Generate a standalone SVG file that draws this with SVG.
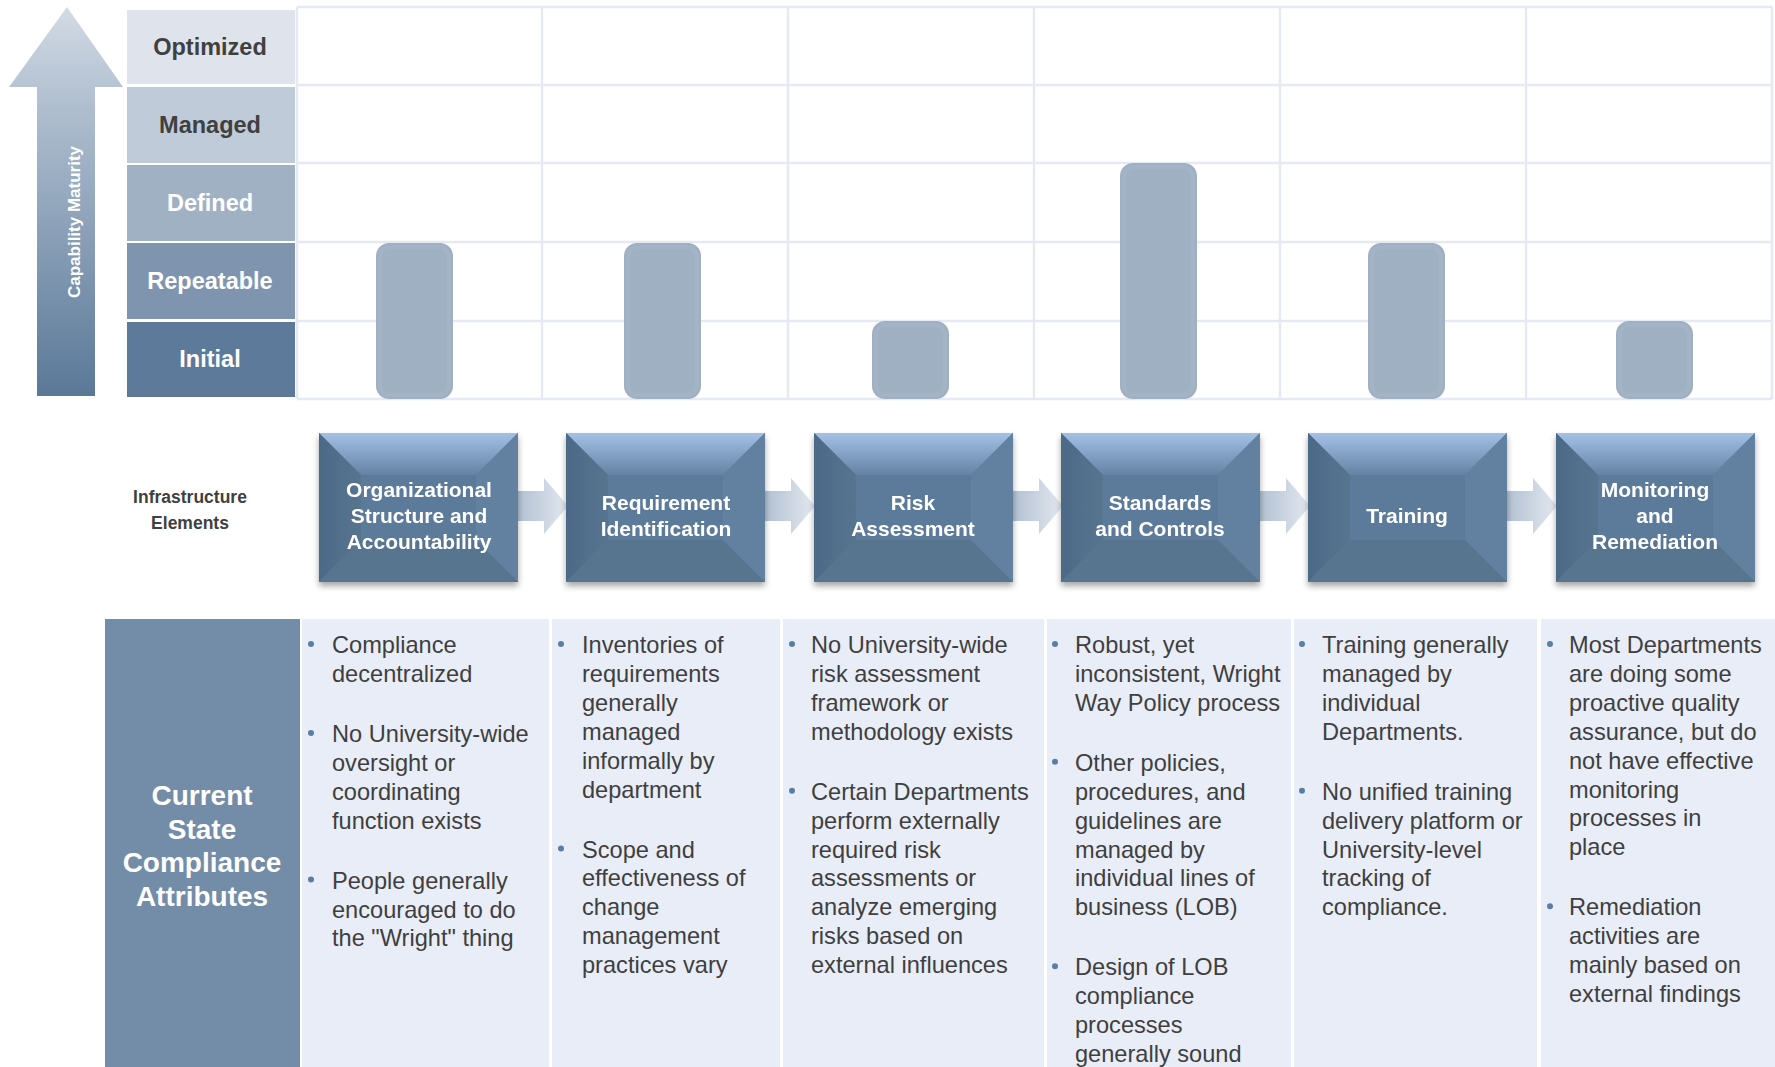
<svg xmlns="http://www.w3.org/2000/svg" xmlns:xlink="http://www.w3.org/1999/xlink" width="1775" height="1067" viewBox="0 0 1775 1067">
  <style>
    .lvl-dark { font-family: "Liberation Sans", Arial, sans-serif; font-weight: bold; font-size: 23.5px; fill: #404040; text-anchor: middle; }
    .lvl-light { font-family: "Liberation Sans", Arial, sans-serif; font-weight: bold; font-size: 23.5px; fill: #ffffff; text-anchor: middle; }
    .axis { font-family: "Liberation Sans", Arial, sans-serif; font-weight: bold; font-size: 17px; fill: #ffffff; text-anchor: middle; }
    .grid { stroke: #e5e9f4; stroke-width: 2.5; fill: none; }
    .bar { fill: #9fb0c3; }
    .bar-in { fill: none; stroke: #a4b4c6; stroke-width: 4; }
    .box-label { font-family: "Liberation Sans", Arial, sans-serif; font-weight: bold; font-size: 21px; fill: #ffffff; text-anchor: middle; }
    .side-label { font-family: "Liberation Sans", Arial, sans-serif; font-weight: bold; font-size: 17.5px; fill: #404040; text-anchor: middle; }
    .panel { fill: #738ca7; }
    .panel-label { font-family: "Liberation Sans", Arial, sans-serif; font-weight: bold; font-size: 28px; fill: #ffffff; text-anchor: middle; }
    .col { fill: #e9edf7; }
    .item { font-family: "Liberation Sans", Arial, sans-serif; font-size: 23.6px; fill: #3f3f3f; }
    .dot { fill: #5a7ea3; }
    .link { fill: url(#linkGrad); }
  </style>
  <defs>
    <linearGradient id="axisGrad" x1="0" y1="7" x2="0" y2="396" gradientUnits="userSpaceOnUse">
      <stop offset="0" stop-color="#d3dbe5"/>
      <stop offset="0.22" stop-color="#b4c2d2"/>
      <stop offset="1" stop-color="#5a7898"/>
    </linearGradient>
    <linearGradient id="topBevel" x1="0" y1="0" x2="0" y2="1">
      <stop offset="0" stop-color="#a3c1e6"/>
      <stop offset="1" stop-color="#6483a4"/>
    </linearGradient>
    <linearGradient id="leftBevel" x1="0" y1="0" x2="1" y2="0">
      <stop offset="0" stop-color="#4d6988"/>
      <stop offset="1" stop-color="#57748f"/>
    </linearGradient>
    <linearGradient id="linkGrad" x1="0" y1="0" x2="1" y2="0">
      <stop offset="0" stop-color="#b2c1d2"/>
      <stop offset="1" stop-color="#e3e8f0"/>
    </linearGradient>
    <filter id="shadow" x="-10%" y="-10%" width="120%" height="125%">
      <feDropShadow dx="0" dy="4" stdDeviation="3" flood-color="#000000" flood-opacity="0.35"/>
    </filter>
    <!-- bevelled process box, 199 x 149 -->
    <g id="bevelBox">
      <rect x="0" y="0" width="199" height="149" fill="#5d7b9b"/>
      <polygon points="0,0 199,0 157,42 42,42" fill="url(#topBevel)"/>
      <polygon points="0,0 42,42 42,107 0,149" fill="url(#leftBevel)"/>
      <polygon points="199,0 199,149 157,107 157,42" fill="#6280a0"/>
      <polygon points="0,149 42,107 157,107 199,149" fill="#58758f"/>
      <rect x="42" y="42" width="115" height="65" fill="#5c7a9a"/>
    </g>
    <path id="linkShape" d="M0,-15 H26 V-28 L50,0 L26,28 V15 H0 Z"/>
  </defs>

  <rect x="0" y="0" width="1775" height="1067" fill="#ffffff"/>

  <!-- capability maturity axis -->
  <g id="axis">
    <polygon points="67,7 123,87 95,87 95,396 37,396 37,87 9,87" fill="url(#axisGrad)"/>
    <text class="axis" transform="translate(80,222) rotate(-90)">Capability Maturity</text>
  </g>

  <!-- maturity levels -->
  <g id="level-optimized">
    <rect x="127" y="10" width="168" height="74" fill="#dfe4ec"/>
    <text class="lvl-dark" x="210" y="55">Optimized</text>
  </g>
  <g id="level-managed">
    <rect x="127" y="87" width="168" height="76" fill="#bfcbd9"/>
    <text class="lvl-dark" x="210" y="133">Managed</text>
  </g>
  <g id="level-defined">
    <rect x="127" y="165" width="168" height="76" fill="#a0b1c4"/>
    <text class="lvl-light" x="210" y="211">Defined</text>
  </g>
  <g id="level-repeatable">
    <rect x="127" y="243" width="168" height="76" fill="#7f95af"/>
    <text class="lvl-light" x="210" y="289">Repeatable</text>
  </g>
  <g id="level-initial">
    <rect x="127" y="322" width="168" height="75" fill="#5d7a9a"/>
    <text class="lvl-light" x="210" y="367">Initial</text>
  </g>

  <!-- maturity grid -->
  <g id="grid">
    <path class="grid" d="M297,7 H1772 M297,85 H1772 M297,163 H1772 M297,242 H1772 M297,321 H1772 M297,399 H1772"/>
    <path class="grid" d="M297,7 V399 M542,7 V399 M788,7 V399 M1034,7 V399 M1280,7 V399 M1526,7 V399 M1772,7 V399"/>
  </g>

  <!-- maturity bars -->
  <g id="bars">
    <g id="bar-org"><rect class="bar" x="376" y="243" width="77" height="156" rx="13"/><rect class="bar-in" x="380" y="247" width="69" height="148" rx="10"/></g>
    <g id="bar-req"><rect class="bar" x="624" y="243" width="77" height="156" rx="13"/><rect class="bar-in" x="628" y="247" width="69" height="148" rx="10"/></g>
    <g id="bar-risk"><rect class="bar" x="872" y="321" width="77" height="78" rx="13"/><rect class="bar-in" x="876" y="325" width="69" height="70" rx="10"/></g>
    <g id="bar-std"><rect class="bar" x="1120" y="163" width="77" height="236" rx="13"/><rect class="bar-in" x="1124" y="167" width="69" height="228" rx="10"/></g>
    <g id="bar-train"><rect class="bar" x="1368" y="243" width="77" height="156" rx="13"/><rect class="bar-in" x="1372" y="247" width="69" height="148" rx="10"/></g>
    <g id="bar-mon"><rect class="bar" x="1616" y="321" width="77" height="78" rx="13"/><rect class="bar-in" x="1620" y="325" width="69" height="70" rx="10"/></g>
  </g>

  <!-- row label -->
  <g id="infra-label">
    <text class="side-label" x="190" y="503">Infrastructure</text>
    <text class="side-label" x="190" y="529">Elements</text>
  </g>

  <!-- connectors between infrastructure elements -->
  <g id="connectors">
    <use xlink:href="#linkShape" href="#linkShape" class="link" transform="translate(518,506)"/>
    <use xlink:href="#linkShape" href="#linkShape" class="link" transform="translate(765,506)"/>
    <use xlink:href="#linkShape" href="#linkShape" class="link" transform="translate(1013,506)"/>
    <use xlink:href="#linkShape" href="#linkShape" class="link" transform="translate(1260,506)"/>
    <use xlink:href="#linkShape" href="#linkShape" class="link" transform="translate(1507,506)"/>
  </g>

  <!-- infrastructure elements -->
  <g id="node-org" filter="url(#shadow)">
    <use xlink:href="#bevelBox" href="#bevelBox" x="319" y="433"/>
    <text class="box-label" x="419" y="497">Organizational</text>
    <text class="box-label" x="419" y="523">Structure and</text>
    <text class="box-label" x="419" y="549">Accountability</text>
  </g>
  <g id="node-req" filter="url(#shadow)">
    <use xlink:href="#bevelBox" href="#bevelBox" x="566" y="433"/>
    <text class="box-label" x="666" y="510">Requirement</text>
    <text class="box-label" x="666" y="536">Identification</text>
  </g>
  <g id="node-risk" filter="url(#shadow)">
    <use xlink:href="#bevelBox" href="#bevelBox" x="814" y="433"/>
    <text class="box-label" x="913" y="510">Risk</text>
    <text class="box-label" x="913" y="536">Assessment</text>
  </g>
  <g id="node-std" filter="url(#shadow)">
    <use xlink:href="#bevelBox" href="#bevelBox" x="1061" y="433"/>
    <text class="box-label" x="1160" y="510">Standards</text>
    <text class="box-label" x="1160" y="536">and Controls</text>
  </g>
  <g id="node-train" filter="url(#shadow)">
    <use xlink:href="#bevelBox" href="#bevelBox" x="1308" y="433"/>
    <text class="box-label" x="1407" y="523">Training</text>
  </g>
  <g id="node-mon" filter="url(#shadow)">
    <use xlink:href="#bevelBox" href="#bevelBox" x="1556" y="433"/>
    <text class="box-label" x="1655" y="497">Monitoring</text>
    <text class="box-label" x="1655" y="523">and</text>
    <text class="box-label" x="1655" y="549">Remediation</text>
  </g>

  <!-- current state panel -->
  <g id="current-state">
    <rect class="panel" x="105" y="619" width="195" height="448"/>
    <text class="panel-label" x="202" y="805">Current</text>
    <text class="panel-label" x="202" y="838.5">State</text>
    <text class="panel-label" x="202" y="872">Compliance</text>
    <text class="panel-label" x="202" y="905.5">Attributes</text>
  </g>

  <g id="attr-org">
    <rect class="col" x="302" y="619" width="247" height="448"/>
    <circle class="dot" cx="311" cy="644" r="3"/>
    <circle class="dot" cx="311" cy="733" r="3"/>
    <circle class="dot" cx="311" cy="879.6" r="3"/>
    <text class="item" x="332" y="653">
      <tspan x="332">Compliance</tspan>
      <tspan x="332" dy="28.9">decentralized</tspan>
      <tspan x="332" dy="60">No University-wide</tspan>
      <tspan x="332" dy="28.9">oversight or</tspan>
      <tspan x="332" dy="28.9">coordinating</tspan>
      <tspan x="332" dy="28.9">function exists</tspan>
      <tspan x="332" dy="60">People generally</tspan>
      <tspan x="332" dy="28.9">encouraged to do</tspan>
      <tspan x="332" dy="28.9">the "Wright" thing</tspan>
    </text>
  </g>

  <g id="attr-req">
    <rect class="col" x="552" y="619" width="228" height="448"/>
    <circle class="dot" cx="561" cy="644" r="3"/>
    <circle class="dot" cx="561" cy="848.5" r="3"/>
    <text class="item" x="582" y="653">
      <tspan x="582">Inventories of</tspan>
      <tspan x="582" dy="28.9">requirements</tspan>
      <tspan x="582" dy="28.9">generally</tspan>
      <tspan x="582" dy="28.9">managed</tspan>
      <tspan x="582" dy="28.9">informally by</tspan>
      <tspan x="582" dy="28.9">department</tspan>
      <tspan x="582" dy="60">Scope and</tspan>
      <tspan x="582" dy="28.9">effectiveness of</tspan>
      <tspan x="582" dy="28.9">change</tspan>
      <tspan x="582" dy="28.9">management</tspan>
      <tspan x="582" dy="28.9">practices vary</tspan>
    </text>
  </g>

  <g id="attr-risk">
    <rect class="col" x="783" y="619" width="261" height="448"/>
    <circle class="dot" cx="792" cy="644" r="3"/>
    <circle class="dot" cx="792" cy="790.7" r="3"/>
    <text class="item" x="811" y="653">
      <tspan x="811">No University-wide</tspan>
      <tspan x="811" dy="28.9">risk assessment</tspan>
      <tspan x="811" dy="28.9">framework or</tspan>
      <tspan x="811" dy="28.9">methodology exists</tspan>
      <tspan x="811" dy="60">Certain Departments</tspan>
      <tspan x="811" dy="28.9">perform externally</tspan>
      <tspan x="811" dy="28.9">required risk</tspan>
      <tspan x="811" dy="28.9">assessments or</tspan>
      <tspan x="811" dy="28.9">analyze emerging</tspan>
      <tspan x="811" dy="28.9">risks based on</tspan>
      <tspan x="811" dy="28.9">external influences</tspan>
    </text>
  </g>

  <g id="attr-std">
    <rect class="col" x="1047" y="619" width="244" height="448"/>
    <circle class="dot" cx="1055" cy="644" r="3"/>
    <circle class="dot" cx="1055" cy="761.8" r="3"/>
    <circle class="dot" cx="1055" cy="966.3" r="3"/>
    <text class="item" x="1075" y="653">
      <tspan x="1075">Robust, yet</tspan>
      <tspan x="1075" dy="28.9">inconsistent, Wright</tspan>
      <tspan x="1075" dy="28.9">Way Policy process</tspan>
      <tspan x="1075" dy="60">Other policies,</tspan>
      <tspan x="1075" dy="28.9">procedures, and</tspan>
      <tspan x="1075" dy="28.9">guidelines are</tspan>
      <tspan x="1075" dy="28.9">managed by</tspan>
      <tspan x="1075" dy="28.9">individual lines of</tspan>
      <tspan x="1075" dy="28.9">business (LOB)</tspan>
      <tspan x="1075" dy="60">Design of LOB</tspan>
      <tspan x="1075" dy="28.9">compliance</tspan>
      <tspan x="1075" dy="28.9">processes</tspan>
      <tspan x="1075" dy="28.9">generally sound</tspan>
    </text>
  </g>

  <g id="attr-train">
    <rect class="col" x="1294" y="619" width="243" height="448"/>
    <circle class="dot" cx="1302" cy="644" r="3"/>
    <circle class="dot" cx="1302" cy="790.7" r="3"/>
    <text class="item" x="1322" y="653">
      <tspan x="1322">Training generally</tspan>
      <tspan x="1322" dy="28.9">managed by</tspan>
      <tspan x="1322" dy="28.9">individual</tspan>
      <tspan x="1322" dy="28.9">Departments.</tspan>
      <tspan x="1322" dy="60">No unified training</tspan>
      <tspan x="1322" dy="28.9">delivery platform or</tspan>
      <tspan x="1322" dy="28.9">University-level</tspan>
      <tspan x="1322" dy="28.9">tracking of</tspan>
      <tspan x="1322" dy="28.9">compliance.</tspan>
    </text>
  </g>

  <g id="attr-mon">
    <rect class="col" x="1541" y="619" width="234" height="448"/>
    <circle class="dot" cx="1550" cy="644" r="3"/>
    <circle class="dot" cx="1550" cy="906.3" r="3"/>
    <text class="item" x="1569" y="653">
      <tspan x="1569">Most Departments</tspan>
      <tspan x="1569" dy="28.9">are doing some</tspan>
      <tspan x="1569" dy="28.9">proactive quality</tspan>
      <tspan x="1569" dy="28.9">assurance, but do</tspan>
      <tspan x="1569" dy="28.9">not have effective</tspan>
      <tspan x="1569" dy="28.9">monitoring</tspan>
      <tspan x="1569" dy="28.9">processes in</tspan>
      <tspan x="1569" dy="28.9">place</tspan>
      <tspan x="1569" dy="60">Remediation</tspan>
      <tspan x="1569" dy="28.9">activities are</tspan>
      <tspan x="1569" dy="28.9">mainly based on</tspan>
      <tspan x="1569" dy="28.9">external findings</tspan>
    </text>
  </g>
</svg>
